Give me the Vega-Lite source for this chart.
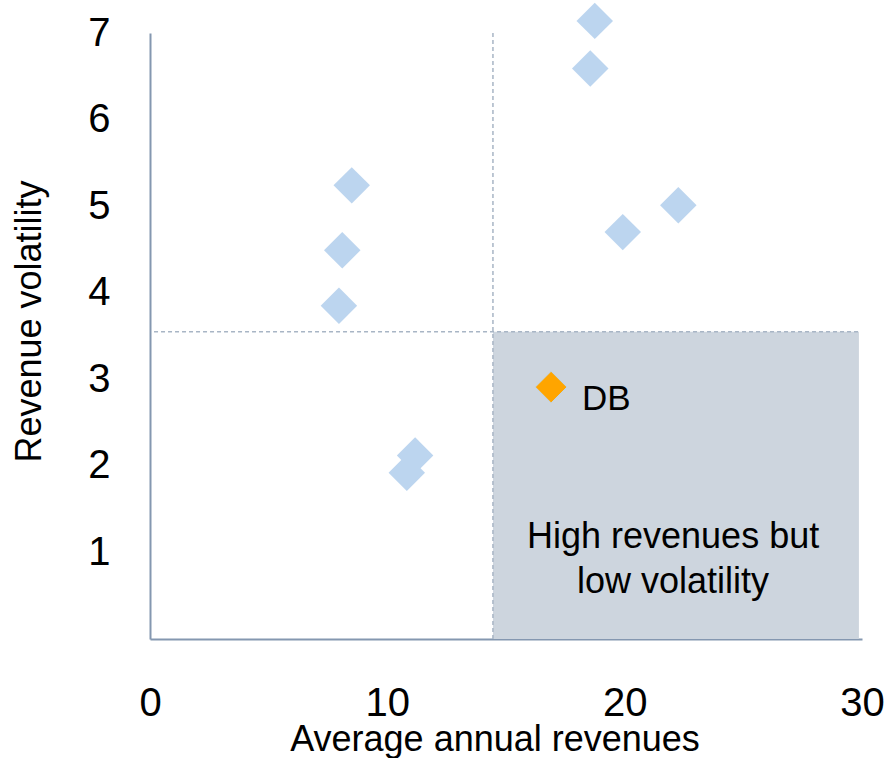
{
  "$schema": "https://vega.github.io/schema/vega-lite/v6.json",
  "autosize": "none",
  "width": 712,
  "height": 606,
  "padding": {"left": 150, "top": 33, "right": 27, "bottom": 119},
  "background": "white",
  "config": {
    "view": {"stroke": null},
    "font": "Liberation Sans",
    "text": {"font": "Liberation Sans"},
    "axisX": {
      "grid": false, "ticks": false, "tickSize": 0,
      "labelFontSize": 40, "labelColor": "black", "labelFont": "Liberation Sans",
      "labelPadding": 44, "labelFlush": false, "labelOverlap": false,
      "domainColor": "#8497B0", "domainWidth": 2,
      "titleFontSize": 36, "titleFontWeight": "normal", "titleColor": "black", "titleFont": "Liberation Sans",
      "titleX": 344.5, "titleY": 111, "titleBaseline": "alphabetic", "titleAlign": "center",
      "zindex": 1
    },
    "axisY": {
      "grid": false, "ticks": false, "tickSize": 0,
      "labelFontSize": 40, "labelColor": "black", "labelFont": "Liberation Sans",
      "labelPadding": 40, "labelFlush": false, "labelOverlap": false,
      "labelAlign": "right", "labelBaseline": "middle",
      "domainColor": "#8497B0", "domainWidth": 2,
      "titleFontSize": 36, "titleFontWeight": "normal", "titleColor": "black", "titleFont": "Liberation Sans",
      "titleAngle": 270, "titleX": -110, "titleY": 288, "titleBaseline": "alphabetic", "titleAlign": "center",
      "zindex": 1
    }
  },
  "datasets": {
    "peers": [
      {"revenue": 8.5, "volatility": 5.24},
      {"revenue": 8.1, "volatility": 4.49},
      {"revenue": 7.96, "volatility": 3.85},
      {"revenue": 11.17, "volatility": 2.12},
      {"revenue": 10.82, "volatility": 1.92},
      {"revenue": 18.74, "volatility": 7.14},
      {"revenue": 18.55, "volatility": 6.59},
      {"revenue": 19.92, "volatility": 4.7},
      {"revenue": 22.26, "volatility": 5.01}
    ],
    "db": [
      {"revenue": 16.9, "volatility": 2.91, "label": "DB"}
    ],
    "zone": [
      {"revenue": 14.45, "revenue_end": 29.87, "volatility": 0, "volatility_end": 3.55}
    ],
    "vline": [
      {"revenue": 14.45, "volatility": 0, "volatility_end": 7.03}
    ],
    "hline": [
      {"revenue": 0.17, "revenue_end": 29.87, "volatility": 3.55}
    ],
    "note": [
      {"revenue": 22.04, "volatility": 1.05, "text": ["High revenues but", "low volatility"]}
    ]
  },
  "layer": [
    {
      "data": {"name": "zone"},
      "mark": {"type": "rect", "fill": "#CDD5DE"},
      "encoding": {
        "x": {"field": "revenue", "type": "quantitative", "scale": {"domain": [0, 30], "nice": false}, "axis": {"title": "Average annual revenues", "values": [0, 10, 20, 30]}},
        "x2": {"field": "revenue_end"},
        "y": {"field": "volatility", "type": "quantitative", "scale": {"domain": [0, 7], "nice": false}, "axis": {"title": "Revenue volatility", "values": [1, 2, 3, 4, 5, 6, 7]}},
        "y2": {"field": "volatility_end"}
      }
    },
    {
      "data": {"name": "vline"},
      "mark": {"type": "rule", "color": "#A8B5C5", "strokeWidth": 1.5, "strokeDash": [4, 3]},
      "encoding": {
        "x": {"field": "revenue", "type": "quantitative", "axis": {"title": "Average annual revenues", "values": [0, 10, 20, 30]}},
        "y": {"field": "volatility", "type": "quantitative", "axis": {"title": "Revenue volatility", "values": [1, 2, 3, 4, 5, 6, 7]}},
        "y2": {"field": "volatility_end"}
      }
    },
    {
      "data": {"name": "hline"},
      "mark": {"type": "rule", "color": "#A8B5C5", "strokeWidth": 1.5, "strokeDash": [4, 3]},
      "encoding": {
        "x": {"field": "revenue", "type": "quantitative", "axis": {"title": "Average annual revenues", "values": [0, 10, 20, 30]}},
        "x2": {"field": "revenue_end"},
        "y": {"field": "volatility", "type": "quantitative", "axis": {"title": "Revenue volatility", "values": [1, 2, 3, 4, 5, 6, 7]}}
      }
    },
    {
      "data": {"name": "peers"},
      "mark": {"type": "point", "shape": "diamond", "filled": true, "size": 1330, "color": "#BCD5EF", "opacity": 1},
      "encoding": {
        "x": {"field": "revenue", "type": "quantitative", "axis": {"title": "Average annual revenues", "values": [0, 10, 20, 30]}},
        "y": {"field": "volatility", "type": "quantitative", "axis": {"title": "Revenue volatility", "values": [1, 2, 3, 4, 5, 6, 7]}}
      }
    },
    {
      "data": {"name": "db"},
      "mark": {"type": "point", "shape": "diamond", "filled": true, "size": 1000, "color": "#FFA500", "opacity": 1, "stroke": "#BDD7EE", "strokeWidth": 1},
      "encoding": {
        "x": {"field": "revenue", "type": "quantitative", "axis": {"title": "Average annual revenues", "values": [0, 10, 20, 30]}},
        "y": {"field": "volatility", "type": "quantitative", "axis": {"title": "Revenue volatility", "values": [1, 2, 3, 4, 5, 6, 7]}}
      }
    },
    {
      "data": {"name": "db"},
      "mark": {"type": "text", "align": "left", "baseline": "alphabetic", "dx": 31, "dy": 23, "fontSize": 35, "color": "black"},
      "encoding": {
        "x": {"field": "revenue", "type": "quantitative", "axis": {"title": "Average annual revenues", "values": [0, 10, 20, 30]}},
        "y": {"field": "volatility", "type": "quantitative", "axis": {"title": "Revenue volatility", "values": [1, 2, 3, 4, 5, 6, 7]}},
        "text": {"field": "label"}
      }
    },
    {
      "data": {"name": "note"},
      "mark": {"type": "text", "align": "center", "baseline": "alphabetic", "fontSize": 36, "lineHeight": 45, "color": "black"},
      "encoding": {
        "x": {"field": "revenue", "type": "quantitative", "axis": {"title": "Average annual revenues", "values": [0, 10, 20, 30]}},
        "y": {"field": "volatility", "type": "quantitative", "axis": {"title": "Revenue volatility", "values": [1, 2, 3, 4, 5, 6, 7]}},
        "text": {"field": "text"}
      }
    }
  ]
}
